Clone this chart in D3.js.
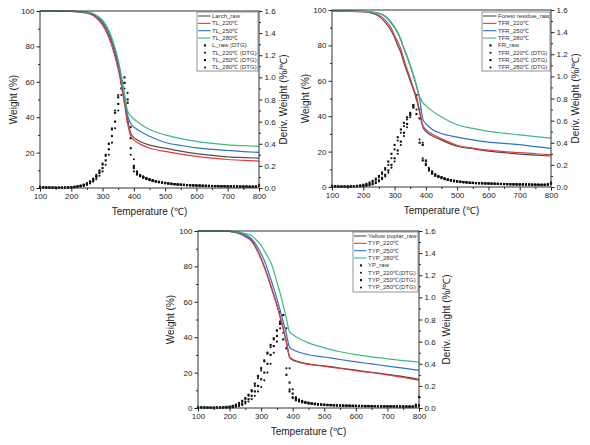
<!DOCTYPE html>
<html><head><meta charset="utf-8">
<script src="https://cdn.jsdelivr.net/npm/d3@7"></script>
<style>body{margin:0;background:#fff}svg{display:block}text{font-family:"Liberation Sans",Arial,sans-serif;fill:#222}</style>
</head><body><svg id="c" width="590" height="445"></svg>
<script>
// ---------- data ----------
const xTicks = [100,200,300,400,500,600,700,800];
const wTicks = [0,20,40,60,80,100];
const dTicks = [0,0.2,0.4,0.6,0.8,1.0,1.2,1.4,1.6];
const weightTemps = [100,150,200,250,270,290,300,310,320,330,340,350,360,370,380,390,400,410,420,450,500,550,600,650,700,750,800];
const dtgTemps = d3.range(100, 801, 10);

// Larch
const larchNames = ["Larch_raw","TL_220℃","TL_250℃","TL_280℃"];
const larchDtgNames = ["L_raw (DTG)","TL_220℃ (DTG)","TL_250℃ (DTG)","TL_280℃ (DTG)"];
const larchRaw = [100,100,99.8,99,97.8,95,93,90,86.5,82,76,69,60,49,38.5,31,28.5,27.3,26.3,24.2,22.5,20.8,19.4,18.4,17.6,17.2,16.9];
const larch220 = [100,100,99.8,98.8,97.4,94.3,92,89,85,80,74,67,58,47.5,36.5,29.5,27,25.8,24.8,22.6,20.7,19.1,17.9,16.9,16.1,15.6,15.2];
const larch250 = [100,100,99.8,99.2,98.2,95.8,94,91.3,88,83.5,77.8,71,62,51.5,41,36.3,34.5,33.2,32,29.2,25.7,24,22.7,21.8,21.2,20.6,20.1];
const larch280 = [100,100,99.9,99.4,98.6,96.5,94.8,92.3,89,84.7,79,72.3,63.5,53,43.5,40.8,39,37.6,36.3,33,30,27.9,26.3,25.2,24.4,23.9,23.5];
const larchRawDtg = [.012,.008,.006,.005,.004,.004,.004,.004,.005,.006, .008,.011,.016,.022,.03,.042,.058,.08,.11,.15, .22,.3,.4,.53,.68,.82,.95,1.0,.77,.36, .18,.13,.11,.095,.085,.075,.067,.06,.054,.049, .045,.041,.038,.035,.032,.03,.028,.026,.025,.024, .023,.022,.021,.02,.019,.018,.018,.017,.016,.016, .015,.015,.014,.014,.013,.013,.013,.012,.012,.014,.025];
const larch220Dtg = [.01,.007,.005,.004,.004,.003,.003,.004,.004,.005, .007,.01,.015,.021,.03,.043,.06,.085,.12,.16, .21,.29,.4,.54,.7,.84,.97,.95,.6,.3, .15,.12,.105,.09,.08,.07,.062,.055,.05,.045, .041,.038,.035,.032,.03,.028,.026,.024,.023,.022, .021,.02,.019,.018,.017,.017,.016,.016,.015,.015, .014,.014,.013,.013,.012,.012,.012,.011,.011,.013,.03];
const larch250Dtg = [.008,.006,.005,.004,.003,.003,.003,.003,.004,.004, .006,.008,.012,.017,.025,.036,.05,.07,.1,.135, .18,.25,.35,.47,.6,.76,.9,.95,.8,.45, .2,.14,.115,.1,.088,.078,.07,.062,.056,.05, .046,.042,.038,.035,.033,.031,.029,.027,.025,.024, .023,.022,.021,.02,.019,.018,.017,.017,.016,.016, .015,.015,.014,.014,.013,.013,.012,.012,.012,.013,.02];
const larch280Dtg = [.006,.005,.004,.003,.003,.002,.002,.003,.003,.003, .004,.006,.009,.013,.019,.028,.04,.056,.08,.11, .15,.21,.3,.41,.54,.7,.84,.9,.86,.55, .26,.15,.12,.105,.092,.08,.071,.063,.057,.051, .047,.043,.039,.036,.033,.031,.029,.027,.026,.024, .023,.022,.021,.02,.019,.018,.018,.017,.016,.016, .015,.015,.014,.014,.013,.013,.013,.012,.012,.012,.018];

// Forest residue
const frNames = ["Forest residue_raw","TFR_220℃","TFR_250℃","TFR_280℃"];
const frDtgNames = ["FR_raw","TFR_220℃ (DTG)","TFR_250℃ (DTG)","TFR_280℃ (DTG)"];
const frRaw = [99.5,99.4,99,96.5,93,88,84.5,80,76,70,65,60,55,49.5,42,34,31.5,30,29,26.5,23,21.6,20.3,19.4,18.6,18,17.5];
const fr220 = [99.5,99.4,99,97,94.3,89.5,85.5,82,78,72,66.5,61.5,56,51,43,35,32.5,31,30,27.2,23.6,22,20.8,20,19.4,18.8,18.2];
const fr250 = [99.5,99.4,99.2,98,96.3,92.5,90,87,83,78,73.5,68.5,63,57,50,38.5,35.7,34,32.6,30.2,28.2,26.6,25.4,24.6,23.9,22.8,21.8];
const fr280 = [99.5,99.4,99.2,98.2,96.6,93,90.5,87.5,83.5,78.5,74,69,63.5,57.5,51,47.7,46,44.5,43,39.5,35.2,33.1,31.4,30.4,29.5,28.5,27.6];
const frRawDtg = [.01,.008,.006,.005,.005,.005,.006,.008,.011,.015, .02,.028,.04,.055,.075,.1,.13,.17,.23,.3, .38,.45,.52,.58,.63,.67,.72,.66,.4,.24, .2,.15,.12,.1,.09,.08,.07,.063,.057,.052, .048,.045,.042,.04,.038,.036,.035,.034,.033,.032, .031,.03,.029,.028,.027,.026,.025,.025,.024,.024, .023,.023,.022,.022,.021,.021,.02,.02,.02,.025,.04];
const fr220Dtg = [.009,.007,.005,.004,.004,.004,.005,.007,.009,.012, .016,.023,.033,.046,.064,.087,.115,.155,.2,.26, .34,.42,.49,.55,.61,.66,.74,.7,.43,.26, .21,.16,.13,.11,.095,.085,.075,.067,.06,.055, .05,.047,.044,.041,.039,.037,.035,.034,.033,.032, .031,.03,.029,.028,.027,.026,.026,.025,.024,.024, .023,.023,.022,.022,.021,.021,.02,.02,.02,.022,.035];
const fr250Dtg = [.007,.005,.004,.003,.003,.003,.004,.005,.006,.008, .01,.014,.02,.029,.042,.06,.083,.11,.15,.2, .26,.33,.41,.49,.57,.65,.74,.83,.62,.38, .24,.17,.14,.115,.1,.09,.08,.07,.063,.058, .053,.049,.046,.043,.04,.038,.036,.035,.034,.033, .032,.031,.03,.029,.028,.027,.026,.025,.025,.024, .024,.023,.023,.022,.022,.021,.021,.02,.02,.021,.03];
const fr280Dtg = [.005,.004,.003,.003,.002,.002,.003,.004,.005,.006, .008,.011,.016,.024,.035,.05,.07,.096,.13,.175, .23,.3,.38,.46,.54,.63,.72,.8,.7,.4, .23,.16,.13,.11,.095,.085,.075,.068,.062,.057, .052,.048,.045,.042,.039,.037,.035,.034,.033,.032, .031,.03,.029,.028,.027,.026,.026,.025,.024,.024, .023,.023,.022,.022,.021,.021,.02,.02,.02,.02,.028];

// Yellow poplar
const ypNames = ["Yellow poplar_raw","TYP_220℃","TYP_250℃","TYP_280℃"];
const ypDtgNames = ["YP_raw","TYP_220℃(DTG)","TYP_250℃(DTG)","TYP_280℃(DTG)"];
const ypRaw = [100,100,99.8,97,94.5,88.5,84.5,80,75,69.5,64,58.3,51.8,45,37.5,29,27.4,26.7,26.1,24.9,23.8,22.6,21.4,20.2,19,17.7,16.2];
const yp220 = [100,100,99.8,96.8,94.2,88,84,79.5,74.5,69,63.5,57.8,51.3,44.5,37,28.5,27,26.3,25.7,24.6,23.5,22.3,21.1,19.9,18.7,17.3,15.7];
const yp250 = [100,100,99.8,97.8,95.5,90.5,87.2,83.3,78.5,73,67.6,61.8,55.3,48.6,42,34.3,33,32.2,31.5,30.1,28.8,27.4,26.1,24.9,23.7,22.5,21.3];
const yp280 = [100,100,99.9,98.6,97.3,94,91.9,88.8,85.8,82.5,77.5,71.2,65,58,50.5,43,41.5,40.3,39.3,36.8,34,31.8,30.2,28.9,27.8,26.8,26];
const ypRawDtg = [.008,.006,.005,.004,.004,.004,.005,.006,.008,.01, .012,.02,.03,.045,.065,.09,.12,.16,.22,.29, .36,.43,.5,.57,.63,.7,.78,.62,.3,.15, .09,.07,.06,.052,.046,.041,.037,.034,.031,.029, .027,.026,.025,.024,.023,.022,.021,.02,.02,.019, .019,.018,.018,.017,.017,.016,.016,.016,.015,.015, .015,.014,.014,.014,.013,.013,.013,.013,.012,.03,.1];
const yp220Dtg = [.007,.005,.004,.004,.003,.003,.004,.005,.007,.008, .01,.016,.025,.038,.056,.08,.11,.15,.2,.27, .34,.42,.49,.55,.62,.7,.87,.68,.36,.17, .1,.075,.063,.055,.048,.043,.039,.035,.032,.03, .028,.026,.025,.024,.023,.022,.021,.02,.02,.019, .019,.018,.018,.017,.017,.016,.016,.015,.015,.015, .014,.014,.014,.013,.013,.013,.012,.012,.012,.015,.03];
const yp250Dtg = [.006,.004,.003,.003,.003,.003,.003,.003,.004,.005, .006,.01,.016,.025,.038,.056,.08,.11,.15,.2, .26,.32,.4,.48,.56,.65,.76,.84,.54,.23, .13,.09,.07,.06,.052,.046,.042,.038,.035,.032, .03,.028,.027,.025,.024,.023,.022,.021,.021,.02, .02,.019,.019,.018,.018,.017,.017,.016,.016,.016, .015,.015,.015,.014,.014,.014,.013,.013,.013,.014,.02];
const yp280Dtg = [.005,.004,.003,.002,.002,.002,.002,.002,.003,.003, .004,.007,.011,.017,.026,.04,.058,.08,.11,.15, .19,.25,.32,.4,.5,.6,.72,.84,.72,.36, .17,.1,.078,.065,.056,.05,.045,.041,.037,.034, .032,.03,.028,.027,.025,.024,.023,.022,.022,.021, .02,.02,.019,.019,.018,.018,.017,.017,.016,.016, .016,.015,.015,.015,.014,.014,.014,.013,.013,.013,.015];

// ---------- drawing ----------
const lineColors = ["#505050","#e0393e","#2c73c6","#3dba7c"];
const symbols = [d3.symbolSquare, d3.symbolCircle, d3.symbolSquare, d3.symbolCircle];
const symSizes = [4.6, 3.4, 4.6, 3.4];

const panels = [
  {box:{l:40,t:11,r:259,b:188}, leg:{x:197,y:12,w:61,h:59,lx:198,tx:212},
   names:larchNames, dnames:larchDtgNames, w:[larchRaw,larch220,larch250,larch280], d:[larchRawDtg,larch220Dtg,larch250Dtg,larch280Dtg], lt:27, rt:24},
  {box:{l:332,t:10,r:551,b:187}, leg:{x:482,y:12,w:68,h:59,lx:483,tx:498},
   names:frNames, dnames:frDtgNames, w:[frRaw,fr220,fr250,fr280], d:[frRawDtg,fr220Dtg,fr250Dtg,fr280Dtg], lt:27, rt:24},
  {box:{l:198,t:231,r:419,b:408}, leg:{x:353,y:232,w:65,h:60,lx:354,tx:368},
   names:ypNames, dnames:ypDtgNames, w:[ypRaw,yp220,yp250,yp280], d:[ypRawDtg,yp220Dtg,yp250Dtg,yp280Dtg], lt:28, rt:27}
];

const svg = d3.select("#c");
svg.append("rect").attr("width",590).attr("height",445).attr("fill","#fff");

panels.forEach(p => {
  const b = p.box;
  const x = d3.scaleLinear().domain([100,800]).range([b.l,b.r]);
  const y = d3.scaleLinear().domain([0,100]).range([b.b,b.t]);
  const y2 = d3.scaleLinear().domain([0,1.6]).range([b.b,b.t]);
  const g = svg.append("g");

  const ax = (sel) => { sel.select(".domain").remove(); sel.selectAll("line").attr("stroke","#222"); sel.selectAll("text").attr("font-size",8).style("fill","#222"); };
  g.append("g").attr("transform",`translate(0,${b.b})`)
    .call(d3.axisBottom(x).tickValues(d3.range(150,800,100)).tickSize(2).tickFormat("")).call(ax);
  g.append("g").attr("transform",`translate(0,${b.b})`)
    .call(d3.axisBottom(x).tickValues(xTicks).tickSize(3.5).tickPadding(2)).call(ax);
  g.append("g").attr("transform",`translate(${b.l},0)`)
    .call(d3.axisLeft(y).tickValues([10,30,50,70,90]).tickSize(2).tickFormat("")).call(ax);
  g.append("g").attr("transform",`translate(${b.l},0)`)
    .call(d3.axisLeft(y).tickValues(wTicks).tickSize(3.5).tickPadding(2)).call(ax);
  g.append("g").attr("transform",`translate(${b.r},0)`)
    .call(d3.axisRight(y2).tickValues([0.1,0.3,0.5,0.7,0.9,1.1,1.3,1.5]).tickSize(2).tickFormat("")).call(ax);
  g.append("g").attr("transform",`translate(${b.r},0)`)
    .call(d3.axisRight(y2).tickValues(dTicks).tickSize(3.5).tickPadding(2).tickFormat(d3.format(".1f"))).call(ax);

  p.d.forEach((vals, i) => {
    const sym = d3.symbol().type(symbols[i]).size(symSizes[i]);
    g.append("g").selectAll("path").data(vals).join("path")
      .attr("transform",(v,j)=>`translate(${x(dtgTemps[j])},${y2(v)})`)
      .attr("d", sym).attr("fill","#111");
  });

  p.w.forEach((vals, i) => {
    const line = d3.line().x((v,j)=>x(weightTemps[j])).y(v=>y(v)).curve(d3.curveMonotoneX);
    g.append("path").datum(vals).attr("d",line).attr("fill","none")
      .attr("stroke",lineColors[i]).attr("stroke-width",1.2);
  });

  g.append("rect").attr("x",b.l).attr("y",b.t).attr("width",b.r-b.l).attr("height",b.b-b.t)
    .attr("fill","none").attr("stroke","#333").attr("stroke-width",1);

  g.append("text").attr("x",(b.l+b.r)/2).attr("y",b.b+27).attr("text-anchor","middle")
    .attr("font-size",10).text("Temperature (℃)");
  g.append("text").attr("transform",`translate(${b.l-p.lt},${(b.t+b.b)/2}) rotate(-90)`)
    .attr("text-anchor","middle").attr("dominant-baseline","central").attr("font-size",10).text("Weight (%)");
  g.append("text").attr("transform",`translate(${b.r+p.rt},${(b.t+b.b)/2}) rotate(-90)`)
    .attr("text-anchor","middle").attr("dominant-baseline","central").attr("font-size",10).text("Deriv. Weight (%/℃)");

  const L = p.leg;
  const lg = g.append("g");
  lg.append("rect").attr("x",L.x).attr("y",L.y).attr("width",L.w).attr("height",L.h)
    .attr("fill","#fff").attr("stroke","#666").attr("stroke-width",0.7);
  const rowH = 7.35;
  const rows = p.names.map((n,i)=>({n, kind:"line", i})).concat(p.dnames.map((n,i)=>({n, kind:"dot", i})));
  rows.forEach((r, k) => {
    const cy = L.y + 4 + k*rowH;
    if (r.kind === "line") {
      lg.append("line").attr("x1",L.lx).attr("x2",L.tx-1.5).attr("y1",cy).attr("y2",cy)
        .attr("stroke",lineColors[r.i]).attr("stroke-width",1.1);
    } else {
      lg.append("path").attr("transform",`translate(${(L.lx+L.tx)/2},${cy})`)
        .attr("d", d3.symbol().type(symbols[r.i]).size(symSizes[r.i])()).attr("fill","#111");
    }
    lg.append("text").attr("x",L.tx).attr("y",cy).attr("dominant-baseline","central")
      .attr("font-size",6).style("fill","#333").text(r.n);
  });
});
</script></body></html>
